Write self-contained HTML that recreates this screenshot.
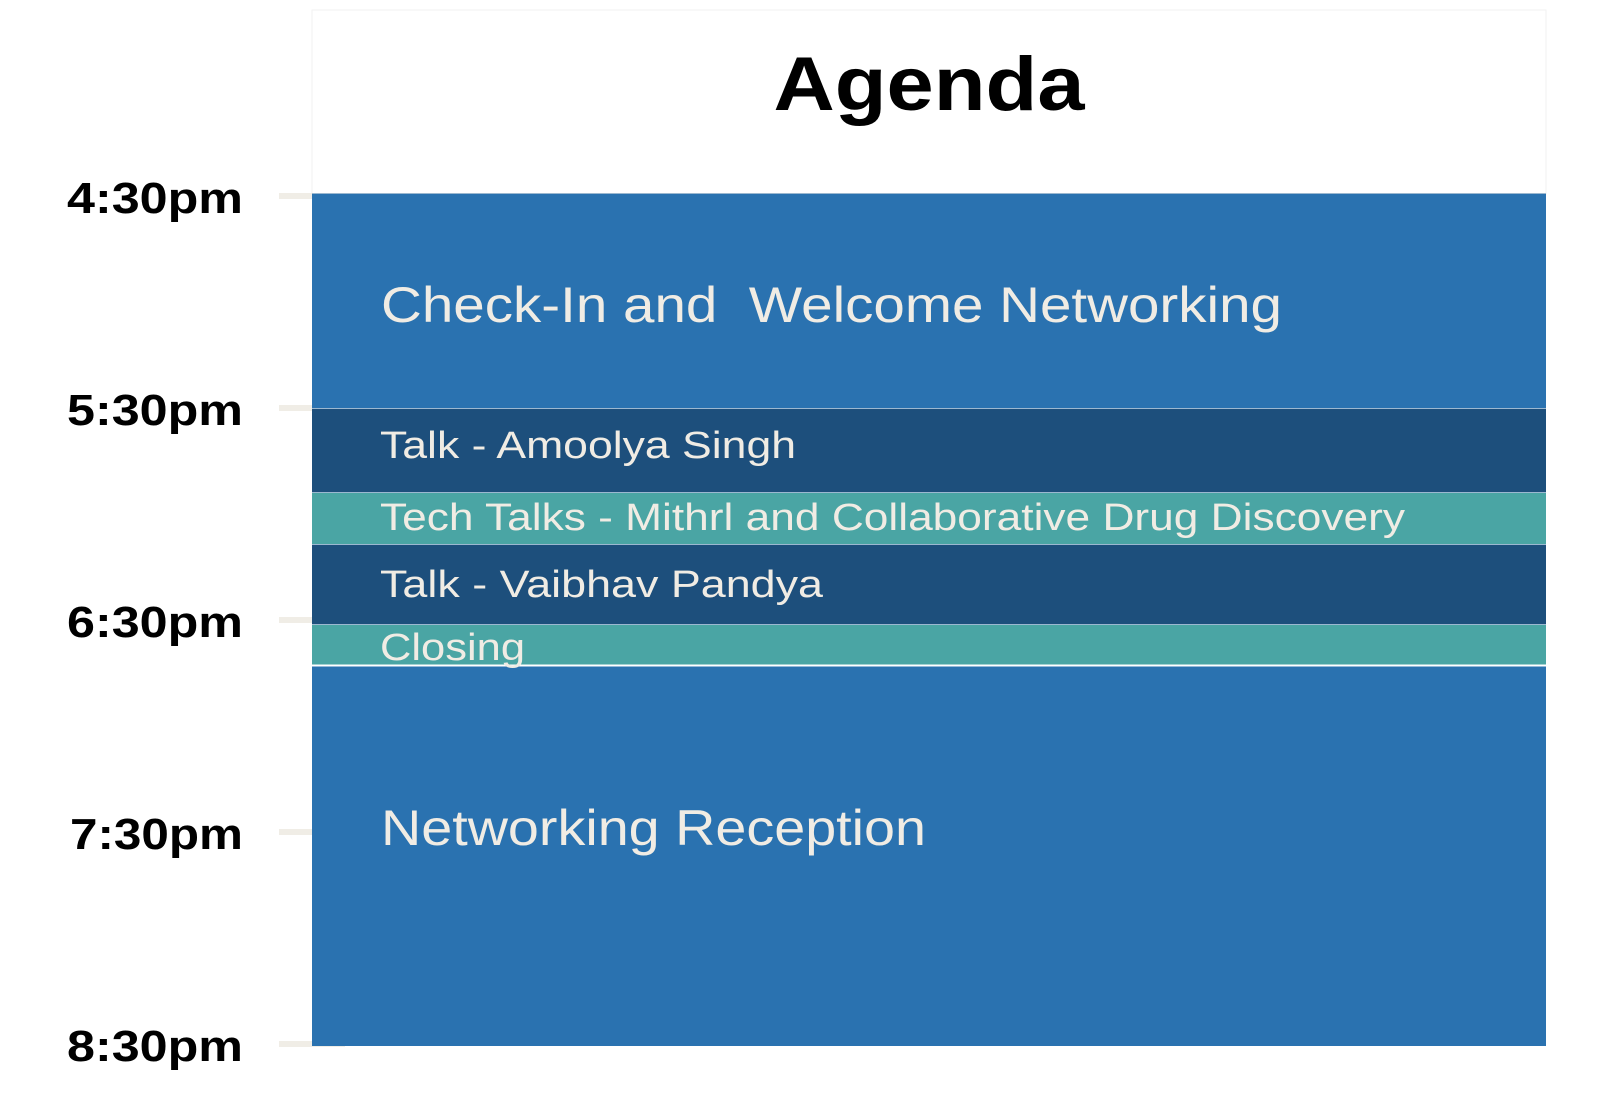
<!DOCTYPE html>
<html><head><meta charset="utf-8"><style>
html,body{margin:0;padding:0;background:#fff;}
svg{display:block;}
text{font-family:"Liberation Sans",sans-serif;}
</style></head><body>
<svg width="1600" height="1114" viewBox="0 0 1600 1114" xmlns="http://www.w3.org/2000/svg">
<rect x="0" y="0" width="1600" height="1114" fill="#fff"/>
<rect x="312" y="10" width="1234" height="184" fill="#fff" stroke="#f2f2f2" stroke-width="1"/>
<text x="929" y="110" text-anchor="middle" font-size="76" font-weight="bold" fill="#000" textLength="311" lengthAdjust="spacingAndGlyphs">Agenda</text>
<g fill="#f0ede6">
<rect x="279" y="193" width="66" height="6"/>
<rect x="279" y="405" width="33" height="6"/>
<rect x="279" y="617" width="33" height="6"/>
<rect x="279" y="829" width="33" height="6"/>
<rect x="279" y="1041" width="66" height="6"/>
</g>
<g font-size="44" font-weight="bold" fill="#000">
<text x="67" y="213" textLength="176" lengthAdjust="spacingAndGlyphs">4:30pm</text>
<text x="67" y="425" textLength="176" lengthAdjust="spacingAndGlyphs">5:30pm</text>
<text x="67" y="637" textLength="176" lengthAdjust="spacingAndGlyphs">6:30pm</text>
<text x="70" y="849" textLength="173" lengthAdjust="spacingAndGlyphs">7:30pm</text>
<text x="67" y="1061" textLength="176" lengthAdjust="spacingAndGlyphs">8:30pm</text>
</g>
<rect x="312" y="193" width="1234" height="215" fill="#2a72b0"/>
<rect x="312" y="408" width="1234" height="84" fill="#1d4f7c"/>
<rect x="312" y="492" width="1234" height="52" fill="#4aa5a4"/>
<rect x="312" y="544" width="1234" height="80" fill="#1d4f7c"/>
<rect x="312" y="624" width="1234" height="41" fill="#4aa5a4"/>
<rect x="312" y="666" width="1234" height="380" fill="#2a72b0"/>
<g stroke="#9cb8d0" stroke-width="1">
<line x1="312" y1="193.5" x2="1546" y2="193.5"/>
<line x1="312" y1="408.5" x2="1546" y2="408.5"/>
<line x1="312" y1="492.5" x2="1546" y2="492.5"/>
<line x1="312" y1="544.5" x2="1546" y2="544.5"/>
<line x1="312" y1="624.5" x2="1546" y2="624.5"/>
</g>
<line x1="312" y1="665.5" x2="1546" y2="665.5" stroke="#fff" stroke-width="2"/>
<g fill="#f0ece4">
<text x="381" y="322" font-size="50" textLength="901" lengthAdjust="spacingAndGlyphs">Check-In and&#160; Welcome Networking</text>
<text x="380" y="458" font-size="38" textLength="416" lengthAdjust="spacingAndGlyphs">Talk - Amoolya Singh</text>
<text x="380" y="530" font-size="38" textLength="1025" lengthAdjust="spacingAndGlyphs">Tech Talks - Mithrl and Collaborative Drug Discovery</text>
<text x="380" y="597" font-size="38" textLength="443" lengthAdjust="spacingAndGlyphs">Talk - Vaibhav Pandya</text>
<text x="380" y="660" font-size="38" textLength="145" lengthAdjust="spacingAndGlyphs">Closing</text>
<text x="381" y="845" font-size="50" textLength="545" lengthAdjust="spacingAndGlyphs">Networking Reception</text>
</g>
</svg>
</body></html>
